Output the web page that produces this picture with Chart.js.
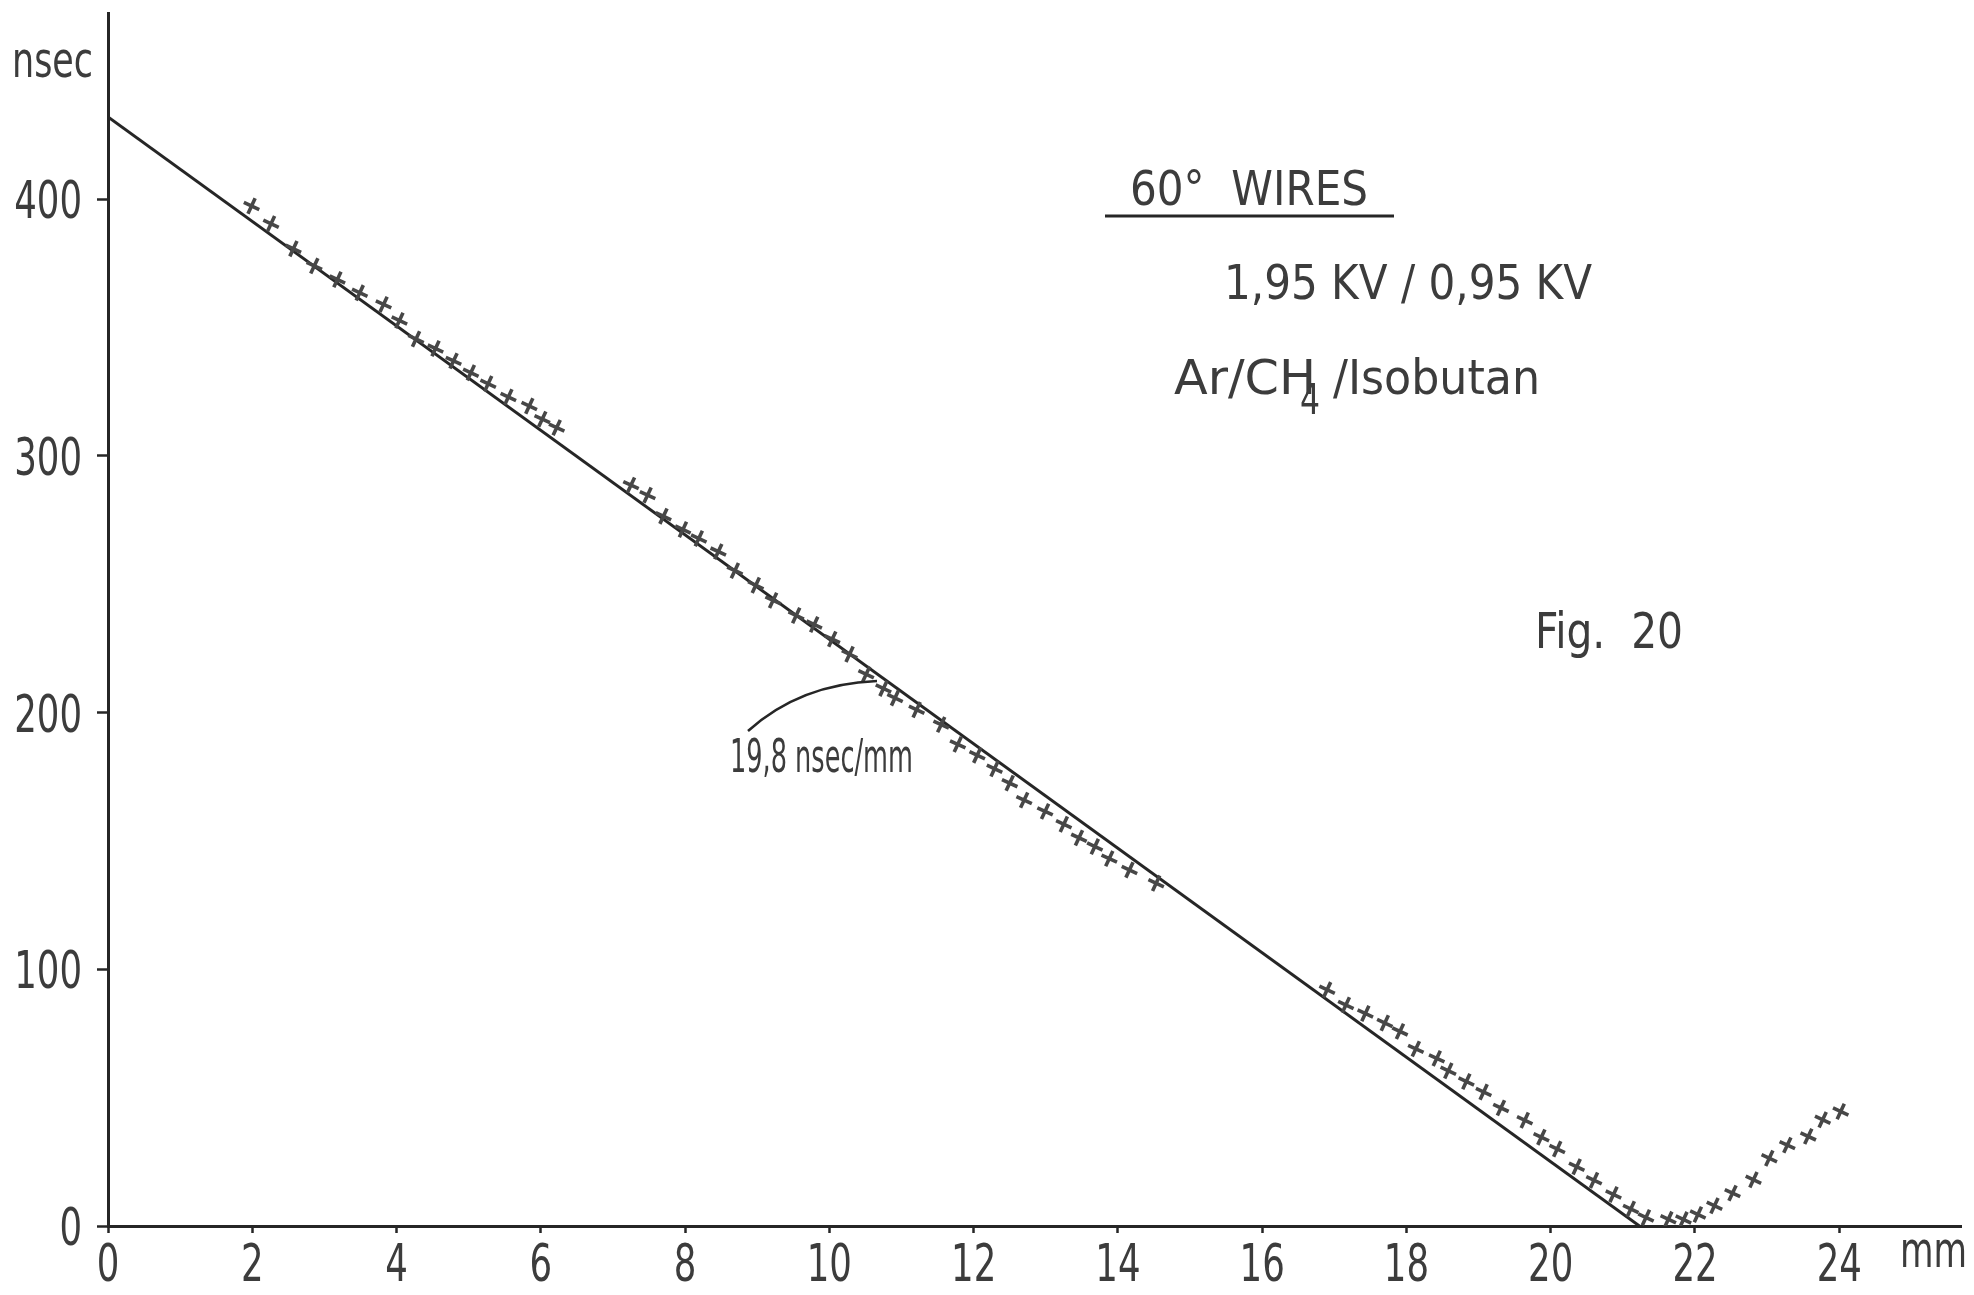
<!DOCTYPE html>
<html>
<head>
<meta charset="utf-8">
<script src="https://cdn.jsdelivr.net/npm/chart.js@4.4.1/dist/chart.umd.min.js"></script>
<style>
  html, body { margin: 0; padding: 0; background: #ffffff; }
  canvas { display: block; }
</style>
</head>
<body>
<canvas id="c" width="1974" height="1295"></canvas>
<script>
// ---- data (x in mm, y in nsec) ----
const xTickValues = [0, 2, 4, 6, 8, 10, 12, 14, 16, 18, 20, 22, 24];
const yTickValues = [0, 100, 200, 300, 400];

const group1X = [1.99, 2.26, 2.57, 2.86, 3.18, 3.49, 3.82, 4.04, 4.27, 4.54, 4.79, 5.03, 5.27, 5.55, 5.84, 6.02, 6.22];
const group1Y = [397.3, 390.4, 380.7, 374.0, 368.7, 363.5, 359.0, 352.7, 345.5, 341.8, 337.0, 332.4, 328.1, 322.9, 319.4, 314.3, 311.0];

const group2X = [7.25, 7.48, 7.70, 7.97, 8.19, 8.46, 8.69, 8.98, 9.22, 9.54, 9.79, 10.04, 10.28, 10.51, 10.75, 10.91, 11.21, 11.55, 11.78, 12.05, 12.29, 12.50, 12.70, 12.99, 13.25, 13.46, 13.68, 13.88, 14.16, 14.53];
const group2Y = [288.6, 284.7, 276.5, 271.3, 267.8, 262.7, 255.3, 249.6, 243.7, 237.8, 234.3, 228.6, 222.7, 214.9, 209.4, 205.7, 201.1, 195.3, 187.6, 183.4, 178.1, 172.5, 165.9, 161.5, 156.5, 151.2, 147.8, 143.1, 138.7, 133.5];

const group3X = [16.90, 17.16, 17.43, 17.70, 17.91, 18.13, 18.42, 18.58, 18.83, 19.07, 19.31, 19.64, 19.87, 20.09, 20.36, 20.60, 20.87, 21.11, 21.32, 21.63, 21.84, 22.04, 22.27, 22.52, 22.81, 23.03, 23.28, 23.57, 23.77, 24.02];
const group3Y = [92.0, 86.1, 82.8, 79.1, 75.8, 69.0, 65.3, 60.5, 56.3, 52.2, 46.0, 41.2, 34.6, 30.0, 23.1, 17.8, 12.3, 6.6, 3.3, 2.6, 2.5, 4.5, 7.9, 12.8, 18.0, 26.4, 31.5, 34.9, 41.4, 44.6];

const fitX = [0, 21.23];
const fitY = [432, 0];

const xMin = 0, xMax = 25.7;
const yMin = 0, yMax = 472.5;

// ---- build ----
const allX = group1X.concat(group2X, group3X);
const allY = group1Y.concat(group2Y, group3Y);
const measured = allX.map((x, i) => ({ x: x, y: allY[i] }));
const fitLine = fitX.map((x, i) => ({ x: x, y: fitY[i] }));

const FONT = "'DejaVu Sans Condensed', 'DejaVu Sans', sans-serif";
const INK = '#262626';
const TEXT = '#3c3c3c';
const LABEL_SIZE = 52;
const LABEL_SQUEEZE = 0.76;

const bgPlugin = {
  id: 'bg',
  beforeDraw(chart) {
    const ctx = chart.ctx;
    ctx.save();
    ctx.fillStyle = '#ffffff';
    ctx.fillRect(0, 0, chart.width, chart.height);
    ctx.restore();
  }
};

// draw text squeezed horizontally to a target width
function fitText(ctx, s, x, y, size, width) {
  ctx.save();
  ctx.font = size + 'px ' + FONT;
  ctx.fillStyle = TEXT;
  ctx.textBaseline = 'alphabetic';
  ctx.textAlign = 'left';
  const w = ctx.measureText(s).width;
  ctx.translate(x, y);
  ctx.scale(width / w, 1);
  ctx.fillText(s, 0, 0);
  ctx.restore();
}

function squeezed(ctx, s, x, y, align) {
  ctx.save();
  ctx.font = LABEL_SIZE + 'px ' + FONT;
  ctx.fillStyle = TEXT;
  ctx.textAlign = align;
  ctx.textBaseline = 'alphabetic';
  ctx.translate(x, y);
  ctx.scale(LABEL_SQUEEZE, 1);
  ctx.fillText(s, 0, 0);
  ctx.restore();
}

const tickLabelPlugin = {
  id: 'tickLabels',
  afterDraw(chart) {
    const ctx = chart.ctx;
    const xs = chart.scales.x, ys = chart.scales.y;
    const digitH = LABEL_SIZE * 0.729;
    xs.ticks.forEach(t => {
      squeezed(ctx, String(t.value), xs.getPixelForValue(t.value), xs.top + 17 + digitH, 'center');
    });
    ys.ticks.forEach(t => {
      squeezed(ctx, String(t.value), ys.right - 26, ys.getPixelForValue(t.value) + digitH / 2, 'right');
    });
  }
};

const annPlugin = {
  id: 'ann',
  afterDraw(chart) {
    const ctx = chart.ctx;
    // axis unit labels
    fitText(ctx, 'nsec', 12, 77, 49, 81);
    fitText(ctx, 'mm', 1900, 1267, 49, 67);

    // title block
    fitText(ctx, '60°  WIRES', 1130, 205, 48, 238);
    ctx.save();
    ctx.strokeStyle = INK;
    ctx.lineWidth = 3;
    ctx.beginPath();
    ctx.moveTo(1105, 216);
    ctx.lineTo(1394, 216);
    ctx.stroke();
    ctx.restore();

    fitText(ctx, '1,95 KV / 0,95 KV', 1224, 299, 48, 368);

    fitText(ctx, 'Ar/CH', 1174, 394, 48, 142);
    fitText(ctx, '4', 1300, 414, 42, 20);
    fitText(ctx, '/Isobutan', 1333, 394, 48, 207);

    fitText(ctx, 'Fig.  20', 1535, 648, 49, 148);

    // slope annotation
    fitText(ctx, '19,8 nsec/mm', 730, 772, 46, 183);
    ctx.save();
    ctx.strokeStyle = INK;
    ctx.lineWidth = 2.5;
    ctx.beginPath();
    ctx.moveTo(748, 731);
    ctx.quadraticCurveTo(800, 684, 877, 681);
    ctx.stroke();
    ctx.restore();
  }
};

new Chart(document.getElementById('c'), {
  data: {
    datasets: [
      {
        type: 'line',
        label: 'fit',
        data: fitLine,
        borderColor: INK,
        borderWidth: 3,
        pointRadius: 0,
        fill: false,
        tension: 0,
        order: 2
      },
      {
        type: 'scatter',
        label: 'measured',
        data: measured,
        pointStyle: 'cross',
        rotation: 25,
        pointRadius: 8.5,
        borderWidth: 3.6,
        borderColor: '#474747',
        backgroundColor: '#474747',
        order: 1
      }
    ]
  },
  options: {
    responsive: false,
    animation: false,
    devicePixelRatio: 1,
    layout: { padding: { left: 0, right: 4, top: 13, bottom: 0 } },
    plugins: {
      legend: { display: false },
      tooltip: { enabled: false },
      title: { display: false }
    },
    scales: {
      x: {
        type: 'linear',
        min: xMin,
        max: xMax,
        afterBuildTicks: s => { s.ticks = xTickValues.map(v => ({ value: v })); },
        afterFit: s => { s.height = 69; s.paddingLeft = 0; s.paddingRight = 0; },
        ticks: { display: false, includeBounds: false, autoSkip: false },
        grid: {
          drawOnChartArea: false,
          drawTicks: true,
          tickLength: 7,
          tickWidth: 2.5,
          tickColor: INK
        },
        border: { display: true, color: INK, width: 3 }
      },
      y: {
        type: 'linear',
        min: yMin,
        max: yMax,
        afterBuildTicks: s => { s.ticks = yTickValues.map(v => ({ value: v })); },
        afterFit: s => { s.width = 108; s.paddingTop = 0; s.paddingBottom = 0; },
        ticks: { display: false, includeBounds: false, autoSkip: false },
        grid: {
          drawOnChartArea: false,
          drawTicks: true,
          tickLength: 11,
          tickWidth: 2.5,
          tickColor: INK
        },
        border: { display: true, color: INK, width: 3 }
      }
    }
  },
  plugins: [bgPlugin, tickLabelPlugin, annPlugin]
});
</script>
</body>
</html>
